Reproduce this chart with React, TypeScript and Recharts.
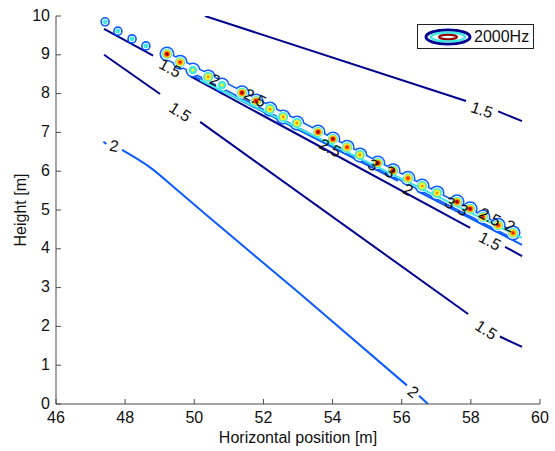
import * as React from "react";
import { ComposedChart, Line, Scatter, XAxis, YAxis, Legend } from "recharts";

const NAVY = "#00008f";
const BLUE = "#0a5cff";
const CYAN = "#3fe8e0";
const YELLOW = "#f2f22a";
const ORANGE = "#ff8a00";
const RED = "#f01e00";
const DARKRED = "#8c0000";
const AXIS = "#4a4a4a";
const FONT = "'Liberation Sans', Arial, sans-serif";

const xTicks = [46, 48, 50, 52, 54, 56, 58, 60];
const yTicks = [0, 1, 2, 3, 4, 5, 6, 7, 8, 9, 10];

// contour lines (y: null breaks the line where a label sits)
const topLine15 = [
  { x: 50.31, y: 10 },
  { x: 57.86, y: 7.81 },
  { x: 58.3, y: null },
  { x: 58.79, y: 7.54 },
  { x: 59.48, y: 7.29 },
];
const midLine15 = [
  { x: 47.39, y: 9.0 },
  { x: 49.01, y: 7.99 },
  { x: 49.6, y: null },
  { x: 50.17, y: 7.27 },
  { x: 57.92, y: 2.32 },
  { x: 58.4, y: null },
  { x: 58.84, y: 1.74 },
  { x: 59.48, y: 1.47 },
];
const curve2 = [
  { x: 47.37, y: 6.76 },
  { x: 47.46, y: 6.7 },
  { x: 47.7, y: null },
  { x: 47.91, y: 6.55 },
  { x: 48.72, y: 6.1 },
  { x: 49.59, y: 5.45 },
  { x: 51.03, y: 4.36 },
  { x: 53.06, y: 2.84 },
  { x: 56.15, y: 0.48 },
  { x: 56.33, y: null },
  { x: 56.5, y: 0.21 },
  { x: 56.76, y: 0 },
];
const bandNavy = [
  { x: 47.39, y: 9.67 },
  { x: 48.81, y: 8.98 },
  { x: 49.3, y: null },
  { x: 49.88, y: 8.45 },
  { x: 57.98, y: 4.54 },
  { x: 58.5, y: null },
  { x: 58.99, y: 4.05 },
  { x: 59.48, y: 3.81 },
];
const bandBlue = [
  { x: 49.88, y: 8.5 },
  { x: 55.89, y: 5.75 },
  { x: 56.18, y: null },
  { x: 56.47, y: 5.48 },
  { x: 59.48, y: 4.1 },
];
const bandCyan = [
  { x: 50.17, y: 8.35 },
  { x: 59.48, y: 4.28 },
];
const bandSpine = [
  { x: 49.21, y: 8.97 },
  { x: 59.22, y: 4.36 },
];

// peaks along the ridge: level 0 = weak ... 4 = strongest
const blobs = [
  { x: 47.42, y: 9.85, level: 0 },
  { x: 47.79, y: 9.61, level: 0 },
  { x: 48.2, y: 9.41, level: 0 },
  { x: 48.6, y: 9.23, level: 0 },
  { x: 49.21, y: 9.02, level: 4 },
  { x: 49.59, y: 8.81, level: 3 },
  { x: 49.96, y: 8.61, level: 1 },
  { x: 50.4, y: 8.43, level: 2 },
  { x: 50.8, y: 8.22, level: 1 },
  { x: 51.38, y: 8.02, level: 4 },
  { x: 51.79, y: 7.81, level: 4 },
  { x: 52.19, y: 7.6, level: 2 },
  { x: 52.57, y: 7.4, level: 2 },
  { x: 52.97, y: 7.24, level: 2 },
  { x: 53.58, y: 7.01, level: 4 },
  { x: 54.01, y: 6.83, level: 4 },
  { x: 54.42, y: 6.62, level: 3 },
  { x: 54.79, y: 6.42, level: 2 },
  { x: 55.31, y: 6.21, level: 4 },
  { x: 55.75, y: 6.01, level: 4 },
  { x: 56.18, y: 5.82, level: 3 },
  { x: 56.59, y: 5.62, level: 2 },
  { x: 57.02, y: 5.44, level: 2 },
  { x: 57.6, y: 5.21, level: 4 },
  { x: 57.98, y: 5.03, level: 4 },
  { x: 58.35, y: 4.82, level: 3 },
  { x: 58.79, y: 4.61, level: 3 },
  { x: 59.22, y: 4.41, level: 3 },
];

const labels = [
  { x: 49.3, y: 8.66, text: "1.5", angle: 28 },
  { x: 50.6, y: 8.35, text: "2", angle: 28 },
  { x: 51.76, y: 7.89, text: "2.5", angle: 28 },
  { x: 53.93, y: 6.6, text: "2.5", angle: 28 },
  { x: 55.17, y: 6.16, text: "3", angle: 28 },
  { x: 55.66, y: 5.98, text: "3", angle: 28 },
  { x: 56.18, y: 5.52, text: "2", angle: 28 },
  { x: 57.4, y: 5.18, text: "3", angle: 28 },
  { x: 57.77, y: 5.0, text: "3", angle: 28 },
  { x: 58.55, y: 4.82, text: "2.5", angle: 28 },
  { x: 59.13, y: 4.59, text: "2", angle: 28 },
  { x: 58.55, y: 4.2, text: "1.5", angle: 28 },
  { x: 58.32, y: 7.58, text: "1.5", angle: 18 },
  { x: 49.59, y: 7.53, text: "1.5", angle: 33 },
  { x: 58.44, y: 1.91, text: "1.5", angle: 33 },
  { x: 47.68, y: 6.65, text: "2", angle: 10 },
  { x: 56.33, y: 0.31, text: "2", angle: 40 },
];

const empty = () => <g />;

function XTick({ x, y, payload }: any) {
  return (
    <g>
      <line x1={x} y1={y} x2={x} y2={y - 5} stroke={AXIS} />
      <text x={x} y={y + 19} textAnchor="middle" fontSize={16} fontFamily={FONT} fill="#111">
        {payload.value}
      </text>
    </g>
  );
}

function YTick({ x, y, payload }: any) {
  return (
    <g>
      <line x1={x} y1={y} x2={x + 5} y2={y} stroke={AXIS} />
      <text x={x - 6} y={y + 4.5} textAnchor="end" fontSize={16} fontFamily={FONT} fill="#111">
        {payload.value}
      </text>
    </g>
  );
}

function LegendBox() {
  return (
    <div
      style={{
        width: 115,
        height: 23,
        border: "1px solid #222",
        background: "#fff",
        display: "flex",
        alignItems: "center",
        fontFamily: FONT,
        fontSize: 16,
        color: "#111",
      }}
    >
      <svg width={56} height={22}>
        <ellipse cx={30} cy={11} rx={22} ry={7} fill="none" stroke={NAVY} strokeWidth={3} />
        <ellipse cx={30} cy={11} rx={17} ry={4.5} fill="none" stroke={CYAN} strokeWidth={2.5} />
        <ellipse cx={30} cy={11} rx={9} ry={2.2} fill="none" stroke={DARKRED} strokeWidth={2} />
      </svg>
      <span>2000Hz</span>
    </div>
  );
}

export default function App() {
  const lineProps = {
    type: "linear" as const,
    dataKey: "y",
    dot: false,
    activeDot: false,
    strokeWidth: 2,
    isAnimationActive: false,
    connectNulls: false,
  };
  return (
    <div style={{ position: "absolute", left: 0, top: 0, background: "#fff" }}>
      <ComposedChart width={555} height={451} margin={{ top: 16, right: 15, bottom: 0, left: 0 }}>
        <XAxis
          type="number"
          dataKey="x"
          domain={[46, 60]}
          ticks={xTicks}
          allowDataOverflow
          height={47}
          tickSize={0}
          tickMargin={0}
          tickLine={false}
          stroke={AXIS}
          tick={<XTick />}
          label={{
            content: () => (
              <text x={298} y={443} textAnchor="middle" fontSize={16} fontFamily={FONT} fill="#111">
                Horizontal position [m]
              </text>
            ),
          }}
        />
        <YAxis
          type="number"
          dataKey="y"
          domain={[0, 10]}
          ticks={yTicks}
          allowDataOverflow
          width={56}
          tickSize={0}
          tickMargin={0}
          tickLine={false}
          stroke={AXIS}
          tick={<YTick />}
          label={{
            content: () => (
              <text
                transform="translate(26,210) rotate(-90)"
                textAnchor="middle"
                fontSize={16}
                fontFamily={FONT}
                fill="#111"
              >
                Height [m]
              </text>
            ),
          }}
        />
        <Line {...lineProps} data={topLine15} stroke={NAVY} />
        <Line {...lineProps} data={midLine15} stroke={NAVY} />
        <Line {...lineProps} type="monotone" data={curve2} stroke={BLUE} />
        <Line {...lineProps} data={bandNavy} stroke={NAVY} />
        <Line {...lineProps} data={bandBlue} stroke={BLUE} />

        <Scatter data={bandSpine} line={{ stroke: BLUE, strokeWidth: 8 }} shape={empty} isAnimationActive={false} />
        <Scatter
          data={blobs}
          isAnimationActive={false}
          shape={(p: any) => <circle cx={p.cx} cy={p.cy} r={p.payload.level === 0 ? 4.8 : 7.5} fill={BLUE} />}
        />
        <Scatter data={bandSpine} line={{ stroke: "#fff", strokeWidth: 5 }} shape={empty} isAnimationActive={false} />
        <Scatter
          data={blobs}
          isAnimationActive={false}
          shape={(p: any) => <circle cx={p.cx} cy={p.cy} r={p.payload.level === 0 ? 3.2 : 6} fill="#fff" />}
        />
        <Scatter data={bandCyan} line={{ stroke: CYAN, strokeWidth: 2 }} shape={empty} isAnimationActive={false} />
        <Scatter
          data={blobs}
          isAnimationActive={false}
          shape={(p: any) => {
            const l = p.payload.level;
            const { cx, cy } = p;
            if (l === 0) return <circle cx={cx} cy={cy} r={2.4} fill={CYAN} />;
            return (
              <g>
                <circle cx={cx} cy={cy} r={l === 1 ? 4.3 : 5} fill={CYAN} />
                <circle cx={cx} cy={cy} r={l === 1 ? 1.8 : l === 2 ? 3.4 : 4} fill={YELLOW} />
                {l >= 2 && <circle cx={cx} cy={cy} r={l === 2 ? 1.3 : l === 3 ? 2.6 : 3.1} fill={ORANGE} />}
                {l >= 3 && <circle cx={cx} cy={cy} r={l === 3 ? 1.4 : 2.2} fill={RED} />}
                {l >= 4 && <circle cx={cx} cy={cy} r={1.3} fill={DARKRED} />}
              </g>
            );
          }}
        />
        <Scatter
          data={labels}
          isAnimationActive={false}
          shape={(p: any) => (
            <text
              x={p.cx}
              y={p.cy}
              transform={`rotate(${p.payload.angle},${p.cx},${p.cy})`}
              textAnchor="middle"
              dominantBaseline="central"
              fontSize={16}
              fontFamily={FONT}
              fill="#111"
            >
              {p.payload.text}
            </text>
          )}
        />
        <Legend
          layout="horizontal"
          verticalAlign="middle"
          align="center"
          wrapperStyle={{ left: 417, top: 24, width: 117, height: 25 }}
          content={() => <LegendBox />}
        />
      </ComposedChart>
    </div>
  );
}
